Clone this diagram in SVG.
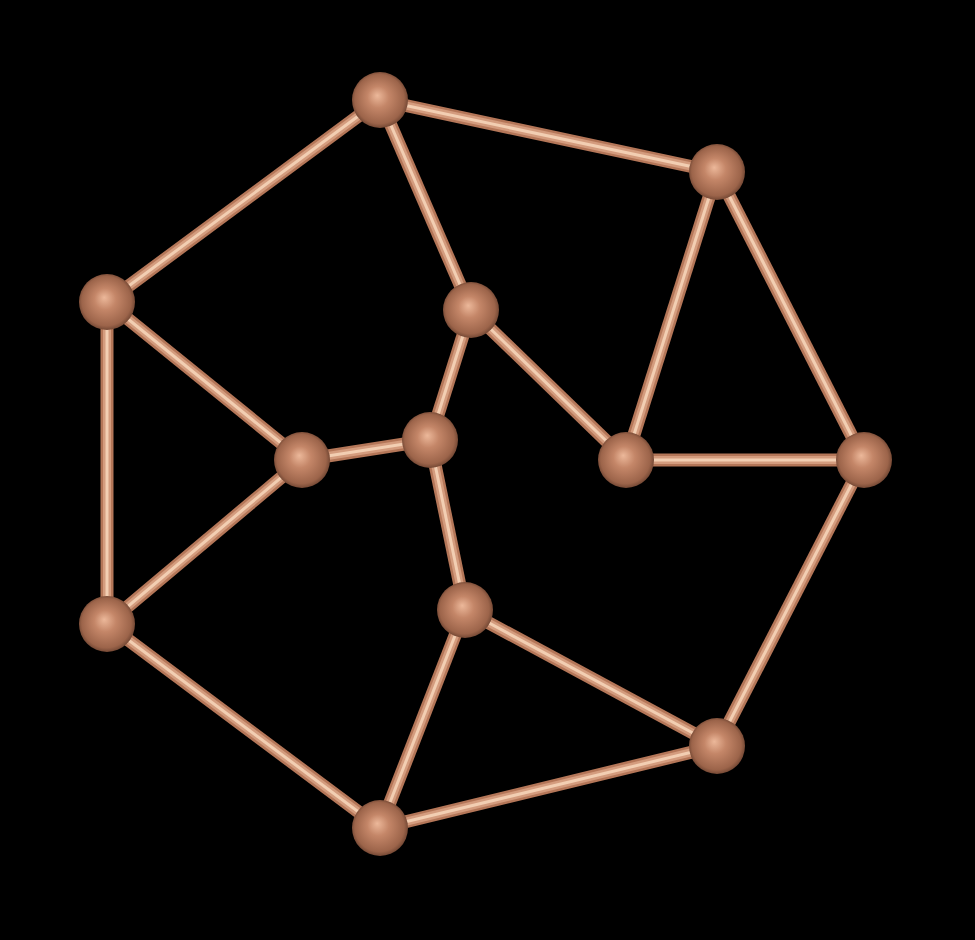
<svg xmlns="http://www.w3.org/2000/svg" width="975" height="940" viewBox="0 0 975 940">
<defs>
<radialGradient id="ball" cx="0.5" cy="0.5" r="0.55" fx="0.45" fy="0.42">
<stop offset="0" stop-color="#ecb89a"/>
<stop offset="0.35" stop-color="#c48668"/>
<stop offset="0.8" stop-color="#9c644a"/>
<stop offset="1" stop-color="#5a3626"/>
</radialGradient>
</defs>
<style>
.rod{stroke:#b47658;stroke-width:13;stroke-linecap:butt}
.rodm{stroke:#d49c7e;stroke-width:8;stroke-linecap:butt}
.rodh{stroke:#f2ceb2;stroke-width:3;stroke-linecap:butt}
.n{fill:url(#ball)}
</style>
<rect width="975" height="940" fill="#000"/>
<g id="connectors">
<g class="rod">
<line x1="380" y1="100" x2="717" y2="172"/><line x1="380" y1="100" x2="107" y2="302"/><line x1="380" y1="100" x2="471" y2="310"/>
<line x1="717" y1="172" x2="626" y2="460"/><line x1="717" y1="172" x2="864" y2="460"/><line x1="107" y1="302" x2="302" y2="460"/>
<line x1="107" y1="302" x2="107" y2="624"/><line x1="471" y1="310" x2="430" y2="440"/><line x1="471" y1="310" x2="626" y2="460"/>
<line x1="302" y1="460" x2="430" y2="440"/><line x1="302" y1="460" x2="107" y2="624"/><line x1="430" y1="440" x2="465" y2="610"/>
<line x1="626" y1="460" x2="864" y2="460"/><line x1="864" y1="460" x2="717" y2="746"/><line x1="107" y1="624" x2="380" y2="828"/>
<line x1="465" y1="610" x2="380" y2="828"/><line x1="465" y1="610" x2="717" y2="746"/><line x1="717" y1="746" x2="380" y2="828"/>
</g>
<g class="rodm">
<line x1="380" y1="100" x2="717" y2="172"/><line x1="380" y1="100" x2="107" y2="302"/><line x1="380" y1="100" x2="471" y2="310"/>
<line x1="717" y1="172" x2="626" y2="460"/><line x1="717" y1="172" x2="864" y2="460"/><line x1="107" y1="302" x2="302" y2="460"/>
<line x1="107" y1="302" x2="107" y2="624"/><line x1="471" y1="310" x2="430" y2="440"/><line x1="471" y1="310" x2="626" y2="460"/>
<line x1="302" y1="460" x2="430" y2="440"/><line x1="302" y1="460" x2="107" y2="624"/><line x1="430" y1="440" x2="465" y2="610"/>
<line x1="626" y1="460" x2="864" y2="460"/><line x1="864" y1="460" x2="717" y2="746"/><line x1="107" y1="624" x2="380" y2="828"/>
<line x1="465" y1="610" x2="380" y2="828"/><line x1="465" y1="610" x2="717" y2="746"/><line x1="717" y1="746" x2="380" y2="828"/>
</g>
<g class="rodh">
<line x1="380" y1="100" x2="717" y2="172"/><line x1="380" y1="100" x2="107" y2="302"/><line x1="380" y1="100" x2="471" y2="310"/>
<line x1="717" y1="172" x2="626" y2="460"/><line x1="717" y1="172" x2="864" y2="460"/><line x1="107" y1="302" x2="302" y2="460"/>
<line x1="107" y1="302" x2="107" y2="624"/><line x1="471" y1="310" x2="430" y2="440"/><line x1="471" y1="310" x2="626" y2="460"/>
<line x1="302" y1="460" x2="430" y2="440"/><line x1="302" y1="460" x2="107" y2="624"/><line x1="430" y1="440" x2="465" y2="610"/>
<line x1="626" y1="460" x2="864" y2="460"/><line x1="864" y1="460" x2="717" y2="746"/><line x1="107" y1="624" x2="380" y2="828"/>
<line x1="465" y1="610" x2="380" y2="828"/><line x1="465" y1="610" x2="717" y2="746"/><line x1="717" y1="746" x2="380" y2="828"/>
</g>
</g>
<g id="nA"><circle class="n" cx="380" cy="100" r="28"/></g>
<g id="nB"><circle class="n" cx="717" cy="172" r="28"/></g>
<g id="nC"><circle class="n" cx="107" cy="302" r="28"/></g>
<g id="nD"><circle class="n" cx="471" cy="310" r="28"/></g>
<g id="nE"><circle class="n" cx="302" cy="460" r="28"/></g>
<g id="nF"><circle class="n" cx="430" cy="440" r="28"/></g>
<g id="nG"><circle class="n" cx="626" cy="460" r="28"/></g>
<g id="nH"><circle class="n" cx="864" cy="460" r="28"/></g>
<g id="nI"><circle class="n" cx="107" cy="624" r="28"/></g>
<g id="nJ"><circle class="n" cx="465" cy="610" r="28"/></g>
<g id="nK"><circle class="n" cx="717" cy="746" r="28"/></g>
<g id="nL"><circle class="n" cx="380" cy="828" r="28"/></g>
</svg>
